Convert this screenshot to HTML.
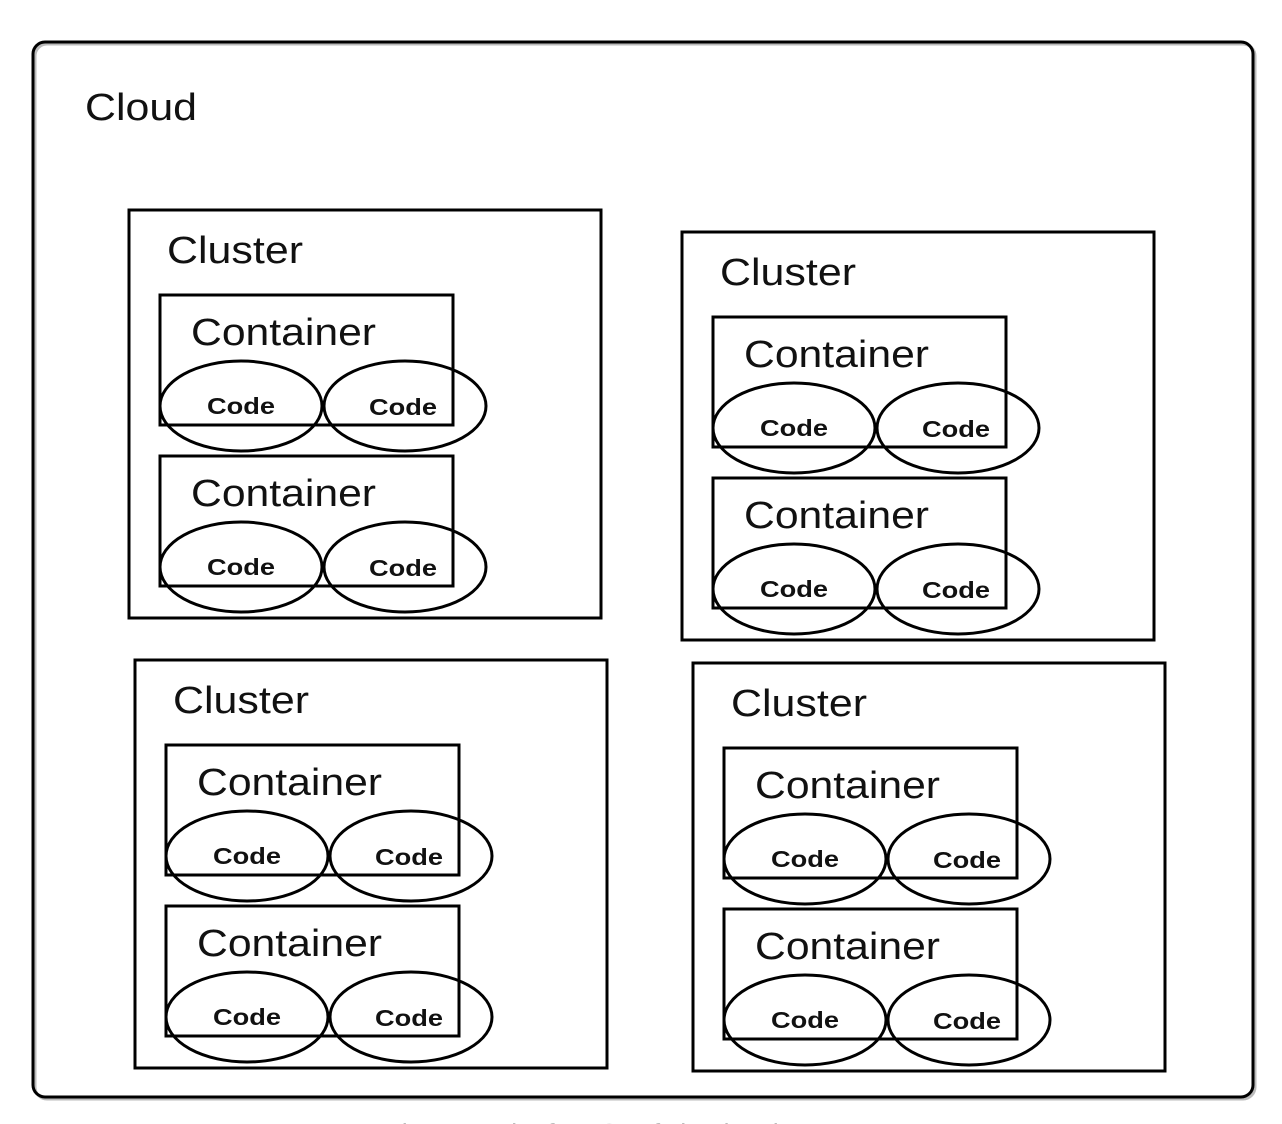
<!DOCTYPE html>
<html><head><meta charset="utf-8"><style>
html,body{margin:0;padding:0;background:#fff;width:1282px;height:1124px;overflow:hidden}
svg{display:block}
.l{font-family:"Liberation Sans",Arial,sans-serif;font-size:38px;fill:#111}
.c{font-family:"Liberation Sans",Arial,sans-serif;font-size:23px;font-weight:bold;fill:#111}
</style></head><body>
<svg width="1282" height="1124" viewBox="0 0 1282 1124" xmlns="http://www.w3.org/2000/svg">
<defs>
<g id="ct">
 <rect x="160" y="295" width="293" height="130" fill="none" stroke="#000" stroke-width="3"/>
 <text class="l" x="191" y="345" textLength="185" lengthAdjust="spacingAndGlyphs">Container</text>
 <ellipse cx="241" cy="406" rx="81" ry="45" fill="none" stroke="#000" stroke-width="3"/>
 <ellipse cx="405" cy="406" rx="81" ry="45" fill="none" stroke="#000" stroke-width="3"/>
 <text class="c" x="207" y="414" textLength="68" lengthAdjust="spacingAndGlyphs">Code</text>
 <text class="c" x="369" y="415" textLength="68" lengthAdjust="spacingAndGlyphs">Code</text>
</g>
<g id="cl">
 <rect x="129" y="210" width="472" height="408" fill="none" stroke="#000" stroke-width="3"/>
 <text class="l" x="167" y="263" textLength="136" lengthAdjust="spacingAndGlyphs">Cluster</text>
 <use href="#ct"/>
 <use href="#ct" transform="translate(0,161)"/>
</g>
</defs>
<rect x="35" y="44" width="1220" height="1055" rx="12" fill="none" stroke="#bbb" stroke-width="3"/>
<rect x="33" y="42" width="1220" height="1055" rx="12" fill="none" stroke="#000" stroke-width="3"/>
<text class="l" x="85" y="120" textLength="112" lengthAdjust="spacingAndGlyphs">Cloud</text>
<use href="#cl"/>
<use href="#cl" transform="translate(553,22)"/>
<use href="#cl" transform="translate(6,450)"/>
<use href="#cl" transform="translate(564,453)"/>
<text x="386" y="1142" font-family="Liberation Sans,Arial,sans-serif" font-size="26" fill="#bbb">Figure 1: The four Cs of cloud native</text>
</svg>
</body></html>
